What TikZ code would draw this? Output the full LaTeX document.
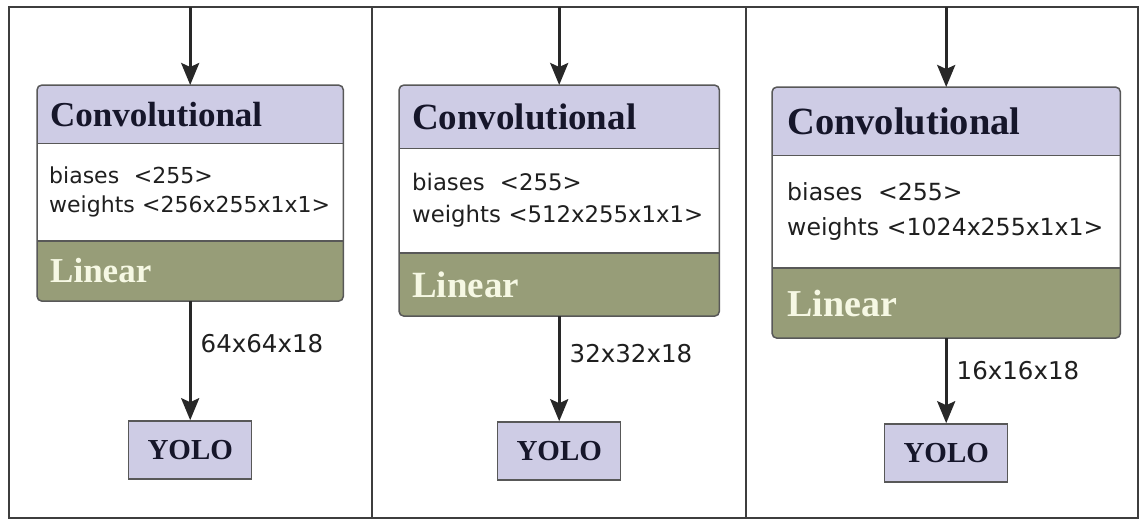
\documentclass[tikz,border=0pt]{standalone}
\usepackage{fontspec}
\setmainfont{Liberation Serif}
\setsansfont{DejaVu Sans}
\usetikzlibrary{positioning,arrows.meta,backgrounds}
\definecolor{convlav}{RGB}{206,204,229}
\definecolor{linolive}{RGB}{151,157,120}
\definecolor{headink}{RGB}{22,22,42}
\definecolor{linink}{RGB}{246,248,228}
\definecolor{edgegray}{RGB}{88,88,88}
\definecolor{frameink}{RGB}{62,62,62}
\definecolor{arrowink}{RGB}{40,40,40}
\tikzset{
  head part/.style = {
    anchor = north west,
    text   = headink,
    align  = left,
    inner xsep = 13pt,
    inner ysep = 0pt,
    font = \bfseries\fontsize{#1}{#1}\selectfont},
  param part/.style 2 args = {
    align  = left,
    text   = black!88,
    inner xsep = 13pt,
    inner ysep = 0pt,
    font = \sffamily\fontsize{#1}{#2}\selectfont},
  linear part/.style = {
    align  = left,
    text   = linink,
    inner xsep = 13pt,
    inner ysep = 0pt,
    font = \bfseries\fontsize{#1}{#1}\selectfont},
  yolo box/.style = {
    draw = edgegray,
    fill = convlav,
    line width = 1.5pt,
    minimum width = 123pt,
    minimum height = 58pt,
    inner sep = 0pt,
    text = headink,
    font = \bfseries\fontsize{29}{29}\selectfont},
  dim label/.style = {text = black!88, inner xsep = 9pt, font = \sffamily\fontsize{24.5}{24.5}\selectfont},
  flow/.style = {->, line width = 3pt, draw = arrowink},
  part line/.style = {draw = edgegray, line width = 1.5pt}
}

\begin{document}
\begin{tikzpicture}[x = 1pt, y = -1pt, >={Stealth[length=22pt, width=18pt, inset=4pt]}]
  \useasboundingbox (0,0) rectangle (1139,520);
  % frame
  \draw[frameink, line width = 2pt] (9,7) rectangle (1138,518);
  \draw[frameink, line width = 2pt] (372,7) -- (372,518);
  \draw[frameink, line width = 2pt] (746,7) -- (746,518);
  \coordinate (frametop) at (0,7);

  % panel 1
  \node[head part = 35, text width = 280pt, minimum height = 58pt] (conv1) at (37,85) {Convolutional};
  \node[param part = {22}{29}, inner xsep = 12pt, text width = 282pt, minimum height = 97pt, below = 0pt of conv1] (par1) {biases\ \ <255>\\weights <256x255x1x1>};
  \node[linear part = 35, text width = 280pt, minimum height = 60pt, below = 0pt of par1] (lin1) {Linear};
  \node[yolo box, below = 119pt of lin1] (yolo1) {YOLO};

  % panel 2
  \node[head part = 37, text width = 294pt, minimum height = 63pt] (conv2) at (399,85) {Convolutional};
  \node[param part = {22.8}{32}, text width = 294pt, minimum height = 104pt, below = 0pt of conv2] (par2) {biases\ \ <255>\\weights <512x255x1x1>};
  \node[linear part = 37, text width = 294pt, minimum height = 63pt, below = 0pt of par2] (lin2) {Linear};
  \node[yolo box, below = 105pt of lin2] (yolo2) {YOLO};

  % panel 3
  \node[head part = 38.5, inner xsep = 15pt, text width = 318pt, minimum height = 68pt] (conv3) at (772,87) {Convolutional};
  \node[param part = {23.6}{35}, inner xsep = 15pt, text width = 318pt, minimum height = 112pt, below = 0pt of conv3] (par3) {biases\ \ <255>\\weights <1024x255x1x1>};
  \node[linear part = 38, inner xsep = 15pt, text width = 318pt, minimum height = 70pt, below = 0pt of par3] (lin3) {Linear};
  \node[yolo box, below = 85pt of lin3] (yolo3) {YOLO};

  % block fills and outlines
  \begin{scope}[on background layer]
    \foreach \i in {1,2,3} {
      \begin{scope}
        \clip[rounded corners = 5pt] (conv\i.north west) rectangle (lin\i.south east);
        \fill[convlav] (conv\i.north west) rectangle (conv\i.south east);
        \fill[white] (par\i.north west) rectangle (par\i.south east);
        \fill[linolive] (lin\i.north west) rectangle (lin\i.south east);
      \end{scope}
    }
  \end{scope}
  \foreach \i in {1,2,3} {
    \draw[part line, rounded corners = 5pt] (conv\i.north west) rectangle (lin\i.south east);
    \draw[part line] (conv\i.south west) -- (conv\i.south east);
    \draw[part line] (par\i.south west) -- (par\i.south east);
    \draw[flow] (conv\i.north |- frametop) -- (conv\i.north);
  }

  \draw[flow] (lin1.south) -- (yolo1.north) node[dim label, pos = 0.36, right] {64x64x18};
  \draw[flow] (lin2.south) -- (yolo2.north) node[dim label, pos = 0.36, right] {32x32x18};
  \draw[flow] (lin3.south) -- (yolo3.north) node[dim label, pos = 0.38, right] {16x16x18};
\end{tikzpicture}
\end{document}
